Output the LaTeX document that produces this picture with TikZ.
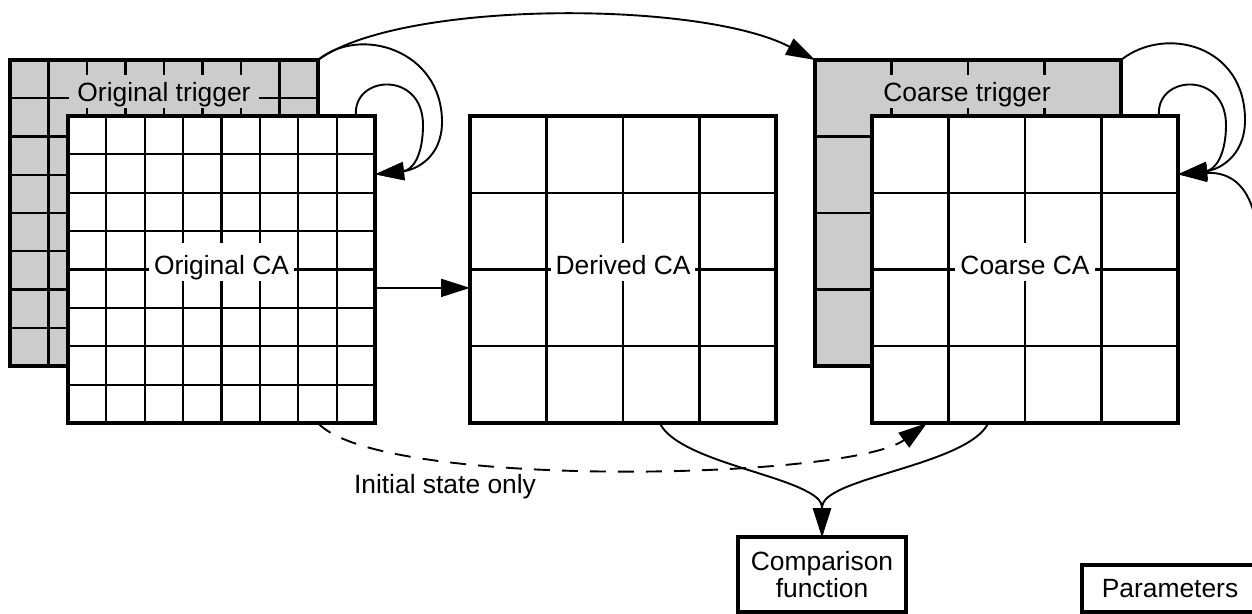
\documentclass[tikz,border=0pt]{standalone}
\usepackage{fontspec}
\setmainfont{Liberation Sans}
\usetikzlibrary{arrows.meta,calc}
\definecolor{trigfill}{RGB}{204,204,204}
\newcommand\drawcells[2]{%
  \foreach \f in {#2} {
    \draw[gridline] ($(#1.north west)!\f!(#1.north east)$) -- ($(#1.south west)!\f!(#1.south east)$);
    \draw[gridline] ($(#1.north west)!\f!(#1.south west)$) -- ($(#1.north east)!\f!(#1.south east)$);
  }}
\begin{document}
\begin{tikzpicture}[x=0.5pt,y=-0.5pt,
  every node/.style={font=\fontsize{13.2}{14}\selectfont},
  frame/.style={draw, line width=1.8pt, inner sep=0pt, outer sep=0pt},
  trig/.style={frame, fill=trigfill},
  cabox/.style={frame, fill=white},
  gridline/.style={line width=1.05pt},
  trlabel/.style={fill=trigfill, inner xsep=4pt, inner ysep=0pt, text height=13.5pt, text depth=3pt, anchor=base},
  calabel/.style={fill=white, inner xsep=2.5pt, inner ysep=0pt, text height=16pt, text depth=3pt, anchor=base},
  conn/.style={line width=0.95pt},
  arr/.style={conn, -{Triangle[length=14.5pt,width=9pt]}},
  dashconn/.style={dash pattern=on 8pt off 6pt},
  textbox/.style={draw, line width=1.6pt, inner sep=0pt, outer sep=0pt, align=center}
]
\useasboundingbox (0,0) rectangle (1252,614);
\clip (0,0) rectangle (1252,614);

% Original trigger and CA
\node[trig, minimum width=154pt, minimum height=153pt] (otrig) at (164,213) {};
\drawcells{otrig}{0.125,0.25,0.375,0.5,0.625,0.75,0.875}
\node[trlabel] (otriglbl) at (164,102) {Original trigger};
\node[cabox, minimum width=153.5pt, minimum height=153.5pt] (oca) at (221.5,269.5) {};
\drawcells{oca}{0.125,0.25,0.375,0.5,0.625,0.75,0.875}
\node[calabel] (ocalbl) at (221.5,275) {Original CA};

% Derived CA
\node[cabox, minimum width=153pt, minimum height=153.5pt] (dca) at (623,269.5) {};
\drawcells{dca}{0.25,0.5,0.75}
\node[calabel] (dcalbl) at (623,275) {Derived CA};

% Coarse trigger and CA
\node[trig, minimum width=153pt, minimum height=153pt] (ctrig) at (968,213) {};
\drawcells{ctrig}{0.25,0.5,0.75}
\node[trlabel] (ctriglbl) at (967,102) {Coarse trigger};
\node[cabox, minimum width=153pt, minimum height=153.5pt] (cca) at (1025,269.5) {};
\drawcells{cca}{0.25,0.5,0.75}
\node[calabel] (ccalbl) at (1025,275) {Coarse CA};

% Boxes
\node[textbox, minimum width=84pt, minimum height=37.5pt, font=\fontsize{13.2}{13.5}\selectfont] (cmp) at (822,574.5) {Comparison\\function};
\node[textbox, minimum width=88pt, minimum height=23.5pt] (par) at (1170,588.5) {Parameters};
\node[anchor=base] (initlbl) at (445,493) {Initial state only};

% Connectors
\draw[arr] ($(oca.north east)!0.56!(oca.south east)$) -- ($(dca.north west)!0.56!(dca.south west)$);
\draw[arr] (otrig.north east) .. controls (400,0) and (700,0) .. (ctrig.north west);

\coordinate (oin) at ($(oca.north east)!0.19!(oca.south east)$);
\draw[arr] (otrig.north east) .. controls (360,25) and (442,50) .. (442,122) .. controls (442,158) and (415,170) .. (oin);
\draw[arr] ($(oca.north east)+(-19,0)$) .. controls (352,75) and (423,70) .. (423,125) .. controls (423,155) and (413,170) .. (oin);

\coordinate (cin) at ($(cca.north east)!0.19!(cca.south east)$);
\draw[arr] (ctrig.north east) .. controls (1165,25) and (1245,45) .. (1245,120) .. controls (1245,158) and (1217,170) .. (cin);
\draw[arr] ($(cca.north east)+(-19,0)$) .. controls (1155,75) and (1226,70) .. (1226,125) .. controls (1226,155) and (1215,170) .. (cin);
\draw[arr] (par.east) .. controls (1275,450) and (1262,250) .. (1253,210) .. controls (1244,180) and (1225,172) .. (cin);

\draw[arr, dashconn] ($(oca.south west)!0.814!(oca.south east)$) .. controls (380,490) and (850,480) .. ($(cca.south west)!0.18!(cca.south east)$);

\draw[arr] ($(dca.south west)!0.62!(dca.south east)$) .. controls (675,455) and (760,470) .. (800,488) .. controls (815,495) and (822,500) .. (cmp.north);
\draw[arr] ($(cca.south west)!0.38!(cca.south east)$) .. controls (973,455) and (886,470) .. (844,488) .. controls (829,495) and (822,500) .. (cmp.north);
\end{tikzpicture}
\end{document}
